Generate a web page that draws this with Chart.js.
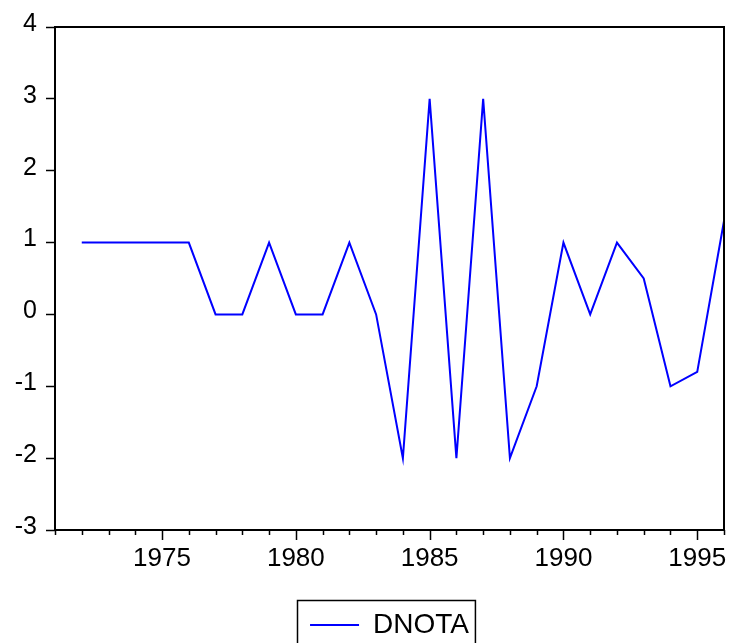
<!DOCTYPE html>
<html>
<head>
<meta charset="utf-8">
<script src="https://cdn.jsdelivr.net/npm/chart.js@4/dist/chart.umd.min.js"></script>
<style>
  html, body { margin: 0; padding: 0; background: #fff; }
  #wrap { width: 730px; height: 643px; }
</style>
</head>
<body>
<div id="wrap"><canvas id="c"></canvas></div>
<script>
// ═══ DATA ═══
const YEARS = [1972, 1973, 1974, 1975, 1976, 1977, 1978, 1979, 1980, 1981, 1982, 1983, 1984,
               1985, 1986, 1987, 1988, 1989, 1990, 1991, 1992, 1993, 1994, 1995, 1996];
const DNOTA = [1, 1, 1, 1, 1, 0, 0, 1, 0, 0, 1, 0, -2,
               3, -2, 3, -2, -1, 1, 0, 1, 0.5, -1, -0.8, 1.3];
const X_MIN = 1971, X_MAX = 1996;
const Y_MIN = -3, Y_MAX = 4;
const SERIES_NAME = 'DNOTA';

const BLUE = '#0000FF';
const FONT = "'Liberation Sans', Arial, sans-serif";

// ═══ FRAME + YEAR TICKS ═══
const framePlugin = {
  id: 'frame',
  afterDraw(chart) {
    const { ctx, chartArea: a, scales: { x } } = chart;
    ctx.save();
    ctx.strokeStyle = '#000';
    ctx.lineWidth = 2;
    ctx.strokeRect(a.left, a.top, a.right - a.left, a.bottom - a.top);
    // year ticks under the frame, long ones every 5 years
    ctx.lineWidth = 1.5;
    ctx.beginPath();
    for (let yr = X_MIN; yr <= X_MAX; yr++) {
      const px = Math.round(x.getPixelForValue(yr)) + 0.5;
      const len = yr % 5 === 0 ? 10 : 5;
      ctx.moveTo(px, a.bottom);
      ctx.lineTo(px, a.bottom + len);
    }
    ctx.stroke();
    // box round the legend (runs off the bottom edge, like the original)
    const lg = chart.legend;
    if (lg && lg.legendHitBoxes && lg.legendHitBoxes.length) {
      const hb = lg.legendHitBoxes[0];
      const cy = hb.top + hb.height / 2;
      ctx.lineWidth = 1.5;
      ctx.strokeRect(Math.round(hb.left - 13) + 0.5, Math.round(cy - 25) + 0.5, hb.width + 19, 80);
    }
    ctx.restore();
  }
};

new Chart(document.getElementById('c'), {
  type: 'line',
  data: {
    datasets: [{
      label: SERIES_NAME,
      data: YEARS.map((yr, i) => ({ x: yr, y: DNOTA[i] })),
      borderColor: BLUE,
      backgroundColor: BLUE,
      borderWidth: 2,
      pointRadius: 0,
      tension: 0,
      clip: false
    }]
  },
  options: {
    responsive: true,
    maintainAspectRatio: false,
    animation: false,
    layout: { padding: { top: 27, right: 6, left: 0, bottom: -6 } },
    plugins: {
      tooltip: { enabled: false },
      legend: {
        position: 'bottom',
        fullSize: false,
        labels: {
          usePointStyle: true,
          pointStyle: 'line',
          pointStyleWidth: 49,
          color: '#000',
          font: { family: FONT, size: 28 },
          padding: 14
        }
      }
    },
    scales: {
      x: {
        type: 'linear',
        min: X_MIN,
        max: X_MAX,
        grid: { display: true, drawOnChartArea: false, drawTicks: true, tickLength: 10, tickColor: 'rgba(0,0,0,0)' },
        border: { display: false },
        ticks: {
          stepSize: 1,
          autoSkip: false,
          maxRotation: 0,
          padding: 3,
          color: '#000',
          font: { family: FONT, size: 26 },
          callback: v => v % 5 === 0 ? String(v) : ''
        },
        afterFit(s) { s.height = 67; }
      },
      y: {
        min: Y_MIN,
        max: Y_MAX,
        grid: { display: true, drawOnChartArea: false, drawTicks: true, tickLength: 9, tickColor: '#000', tickWidth: 1.5 },
        border: { display: false },
        ticks: {
          stepSize: 1,
          padding: 9,
          labelOffset: -3,
          color: '#000',
          font: { family: FONT, size: 25 }
        },
        afterFit(s) { s.width = 55; }
      }
    }
  },
  plugins: [framePlugin]
});
</script>
</body>
</html>
